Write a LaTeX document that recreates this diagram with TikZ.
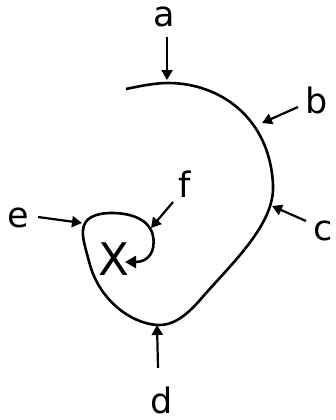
\documentclass[tikz,border=0pt]{standalone}
\usepackage{fontspec}
\setmainfont{DejaVu Sans}
\usetikzlibrary{arrows.meta}
\begin{document}
\begin{tikzpicture}[x=1pt,y=-1pt,
  lbl/.style={anchor=base,inner sep=0pt,font=\fontsize{35}{40}\selectfont},
  ptr/.style={line width=2.2pt,-{Triangle[length=10pt,width=11pt]}},
  spiral/.style={line width=2.6pt}]
\useasboundingbox (0,0) rectangle (336,420);
% labels
\node[lbl] (a) at (164,27) {a};
\node[lbl] (b) at (317,113) {b};
\node[lbl] (c) at (323,240) {c};
\node[lbl] (d) at (162,413) {d};
\node[lbl] (e) at (18,227) {e};
\node[lbl] (f) at (185,197) {f};
\node[anchor=base,inner sep=0pt,font=\fontsize{45}{50}\selectfont] (X) at (114,275) {X};
% arrow end points
\coordinate (a1) at (167,37);  \coordinate (a2) at (167,80);
\coordinate (b1) at (298,107); \coordinate (b2) at (262,123);
\coordinate (c1) at (306,221); \coordinate (c2) at (272,206);
\coordinate (d1) at (158,368); \coordinate (d2) at (157,325);
\coordinate (e1) at (38,217);  \coordinate (e2) at (82,223);
\coordinate (f1) at (173,202); \coordinate (f2) at (151,228);
\coordinate (s0) at (126,89);
\coordinate (s9) at (125,262);
% curve
\draw[spiral,-{Triangle[length=11pt,width=12pt]}] (s0)
  .. controls (140,86) and (155,83) .. (168,83)
  .. controls (220,83) and (270,118) .. (273,185)
  .. controls (275,225) and (230,265) .. (200,300)
  .. controls (185,317) and (172,326) .. (157,325)
  .. controls (130,323) and (100,300) .. (90,265)
  .. controls (86,250) and (82,238) .. (83,230)
  .. controls (84,218) and (95,213) .. (112,213)
  .. controls (132,213) and (150,220) .. (153,236)
  .. controls (156,252) and (148,262) .. (s9);
% pointers
\draw[ptr] (a1) -- (a2);
\draw[ptr] (b1) -- (b2);
\draw[ptr] (c1) -- (c2);
\draw[ptr] (d1) -- (d2);
\draw[ptr] (e1) -- (e2);
\draw[ptr] (f1) -- (f2);
\end{tikzpicture}
\end{document}
